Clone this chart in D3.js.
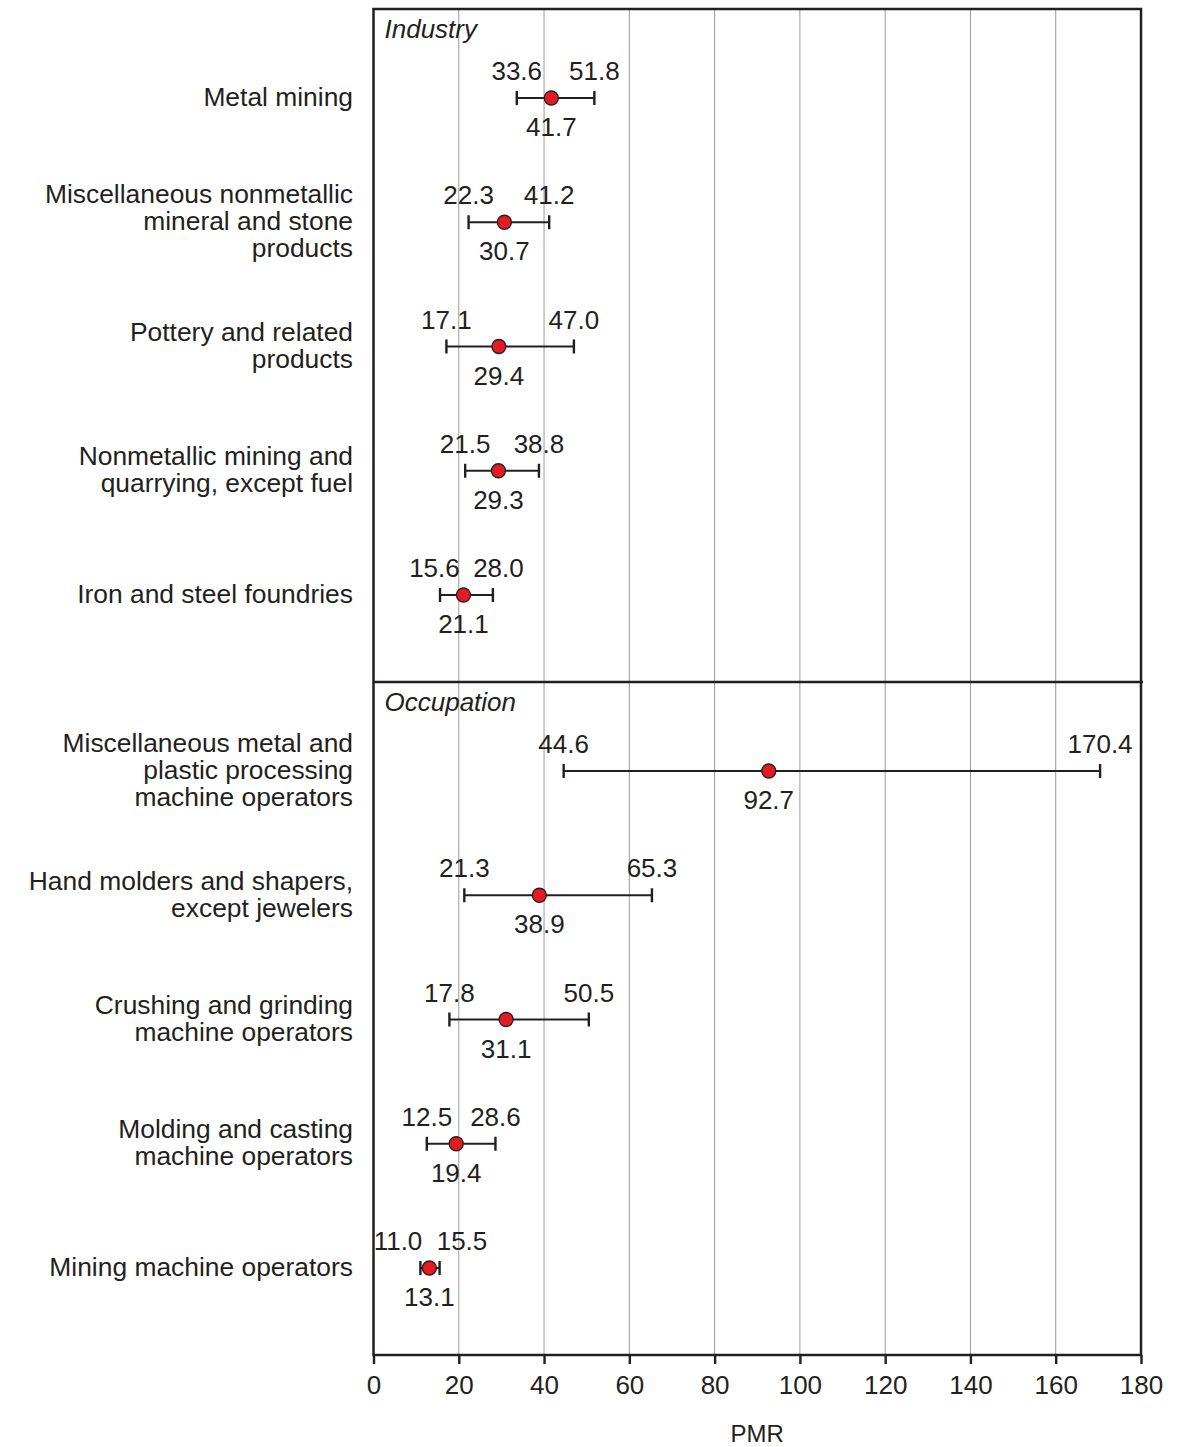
<!DOCTYPE html>
<html>
<head>
<meta charset="utf-8">
<script src="https://cdn.jsdelivr.net/npm/d3@7"></script>
<style>
  body { margin: 0; background: #fff; }
  text { font-family: "Liberation Sans", Arial, sans-serif; fill: #231f20; }
</style>
</head>
<body>
<script>
// industry panel
const industryNames = [
  ["Metal mining"],
  ["Miscellaneous nonmetallic", "mineral and stone", "products"],
  ["Pottery and related", "products"],
  ["Nonmetallic mining and", "quarrying, except fuel"],
  ["Iron and steel foundries"]
]
const industryPMR  = [41.7, 30.7, 29.4, 29.3, 21.1]
const industryLow  = [33.6, 22.3, 17.1, 21.5, 15.6]
const industryHigh = [51.8, 41.2, 47.0, 38.8, 28.0]

// occupation panel
const occupationNames = [
  ["Miscellaneous metal and", "plastic processing", "machine operators"],
  ["Hand molders and shapers,", "except jewelers"],
  ["Crushing and grinding", "machine operators"],
  ["Molding and casting", "machine operators"],
  ["Mining machine operators"]
]
const occupationPMR  = [92.7, 38.9, 31.1, 19.4, 13.1]
const occupationLow  = [44.6, 21.3, 17.8, 12.5, 11.0]
const occupationHigh = [170.4, 65.3, 50.5, 28.6, 15.5]

const xTicks = [0, 20, 40, 60, 80, 100, 120, 140, 160, 180]

const width = 1188, height = 1447
const plotLeft = 373.5, plotRight = 1141
const plotTop = 9, plotMid = 682, plotBottom = 1355
const fs = 26

const svg = d3.select("body").append("svg")
    .attr("width", width)
    .attr("height", height)

const x = d3.scaleLinear().domain([0, 180]).range([plotLeft, plotRight])

// grid
svg.append("g").selectAll("line")
    .data(xTicks.slice(1, -1))
    .enter().append("line")
    .attr("x1", d => x(d)).attr("x2", d => x(d))
    .attr("y1", plotTop).attr("y2", plotBottom)
    .attr("stroke", "#9a9a9a")
    .attr("stroke-width", 1)

function panel(title, names, pmr, low, high, y0, y1) {
  const rows = names.map((n, i) => ({name: n, pmr: pmr[i], low: low[i], high: high[i], i: i}))
  const y = d3.scalePoint().domain(d3.range(rows.length)).range([y0 + 89, y1 - 87])
  const g = svg.append("g")

  g.append("text")
      .attr("x", plotLeft + 11)
      .attr("y", y0 + 20)
      .attr("dy", "0.35em")
      .style("font-size", fs + "px")
      .style("font-style", "italic")
      .text(title)

  const row = g.selectAll(".row").data(rows).enter().append("g")

  // category labels
  row.append("text")
      .attr("text-anchor", "end")
      .style("font-size", "26.4px")
      .each(function(d) {
        const n = d.name.length
        d3.select(this).selectAll("tspan").data(d.name).enter().append("tspan")
            .attr("x", 353)
            .attr("y", (s, k) => y(d.i) - 1 + (k - (n - 1) / 2) * 27)
            .attr("dy", "0.35em")
            .text(s => s)
      })

  // whiskers
  row.append("line")
      .attr("x1", d => x(d.low)).attr("x2", d => x(d.high))
      .attr("y1", d => y(d.i)).attr("y2", d => y(d.i))
      .attr("stroke", "#231f20").attr("stroke-width", 2.2)
  row.selectAll(".cap").data(d => [d.low, d.high].map(v => ({v: v, i: d.i})))
      .enter().append("line")
      .attr("x1", c => x(c.v)).attr("x2", c => x(c.v))
      .attr("y1", c => y(c.i) - 7).attr("y2", c => y(c.i) + 7)
      .attr("stroke", "#231f20").attr("stroke-width", 2.4)

  row.append("circle")
      .attr("cx", d => x(d.pmr))
      .attr("cy", d => y(d.i))
      .attr("r", 7)
      .attr("fill", "#e31b23")
      .attr("stroke", "#231f20")
      .attr("stroke-width", 1.3)

  // value labels, pushed apart when the ends are too close
  row.each(function(d) {
    let a = x(d.low), b = x(d.high)
    const minGap = 64
    if (b - a < minGap) {
      const m = (a + b) / 2
      a = m - minGap / 2
      b = m + minGap / 2
    }
    const s = d3.select(this)
    s.append("text").attr("x", a).attr("y", y(d.i) - 27).attr("dy", "0.35em")
        .attr("text-anchor", "middle").style("font-size", fs + "px")
        .text(d.low.toFixed(1))
    s.append("text").attr("x", b).attr("y", y(d.i) - 27).attr("dy", "0.35em")
        .attr("text-anchor", "middle").style("font-size", fs + "px")
        .text(d.high.toFixed(1))
    s.append("text").attr("x", x(d.pmr)).attr("y", y(d.i) + 29).attr("dy", "0.35em")
        .attr("text-anchor", "middle").style("font-size", fs + "px")
        .text(d.pmr.toFixed(1))
  })
}

panel("Industry", industryNames, industryPMR, industryLow, industryHigh, plotTop, plotMid)
panel("Occupation", occupationNames, occupationPMR, occupationLow, occupationHigh, plotMid, plotBottom)

// frame
svg.append("rect")
    .attr("x", plotLeft).attr("y", plotTop)
    .attr("width", plotRight - plotLeft).attr("height", plotBottom - plotTop)
    .attr("fill", "none").attr("stroke", "#231f20").attr("stroke-width", 2.5)
svg.append("line")
    .attr("x1", plotLeft).attr("x2", plotRight + 2)
    .attr("y1", plotMid).attr("y2", plotMid)
    .attr("stroke", "#231f20").attr("stroke-width", 2.5)

// x axis
const axis = svg.append("g")
    .attr("transform", `translate(0, ${plotBottom})`)
    .call(d3.axisBottom(x).tickValues(xTicks).tickSize(9).tickPadding(12).tickSizeOuter(0))
axis.select(".domain").remove()
axis.selectAll(".tick line").attr("stroke", "#231f20").attr("stroke-width", 2.4)
axis.selectAll(".tick text")
    .style("font-size", fs + "px")
    .style("font-family", "'Liberation Sans', Arial, sans-serif")
    .attr("fill", "#231f20")

svg.append("text")
    .attr("x", (plotLeft + plotRight) / 2)
    .attr("y", 1434)
    .attr("dy", "0.35em")
    .attr("text-anchor", "middle")
    .style("font-size", "24px")
    .text("PMR")
</script>
</body>
</html>
